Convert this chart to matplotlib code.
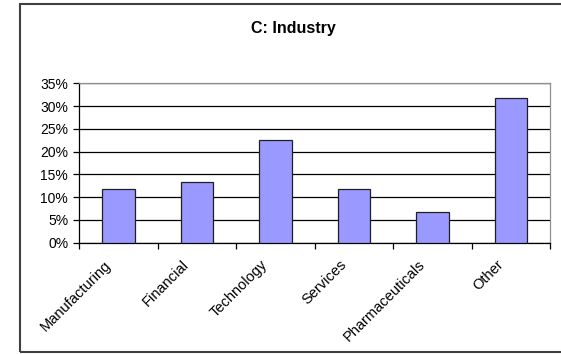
import matplotlib.pyplot as plt
from matplotlib.patches import Rectangle
from matplotlib.ticker import FuncFormatter
from matplotlib.transforms import ScaledTranslation
import numpy as np

plt.rcParams['font.family'] = ['Liberation Sans', 'DejaVu Sans']

categories = ["Manufacturing", "Financial", "Technology", "Services",
              "Pharmaceuticals", "Other"]
shares = [11.8, 13.4, 22.5, 11.8, 6.7, 31.8]
yticks = [0, 5, 10, 15, 20, 25, 30, 35]

fig = plt.figure(figsize=(5.61, 3.54), dpi=100)
ax = fig.add_axes([0.1414, 0.3144, 0.981 - 0.1414, 0.7647 - 0.3144])

x = np.arange(len(categories))
ax.bar(x, shares, width=0.41, color="#9999ff", edgecolor="#202020",
       linewidth=0.9, zorder=3)

ax.set_xlim(-0.5, len(categories) - 0.5)
ax.set_ylim(0, 35)
ax.set_yticks(yticks)
ax.yaxis.set_major_formatter(FuncFormatter(lambda v, p: "%d%%" % v))
ax.yaxis.grid(True, color="black", linewidth=0.9, zorder=0)
ax.set_axisbelow(True)

# tick marks at category boundaries, labels drawn below the centres
ax.set_xticks(np.arange(len(categories) + 1) - 0.5)
ax.set_xticklabels([])
ax.tick_params(axis="x", length=4, width=0.9, direction="out")
ax.tick_params(axis="y", length=4, width=0.9, labelsize=10, pad=4)

offset = ScaledTranslation(-15 / 100, -15 / 100, fig.dpi_scale_trans)
for xi, name in zip(x, categories):
    ax.text(xi, 0, name, transform=ax.get_xaxis_transform() + offset,
            rotation=45, ha="right", va="top", rotation_mode="anchor",
            fontsize=10.5)

for s in ["left", "bottom"]:
    ax.spines[s].set_color("black")
    ax.spines[s].set_linewidth(0.9)
for s in ["top", "right"]:
    ax.spines[s].set_color("#909090")
    ax.spines[s].set_linewidth(0.9)

fig.text(293 / 561, 1 - 28 / 354, "C: Industry", ha="center", va="center",
         fontsize=11.5, fontweight="bold")

fig.patches.append(Rectangle((20 / 561, 2 / 354), 1.2, 348 / 354,
                             transform=fig.transFigure, fill=False,
                             edgecolor="#404040", linewidth=1.5,
                             clip_on=False))

fig.savefig("out.png", dpi=100)
